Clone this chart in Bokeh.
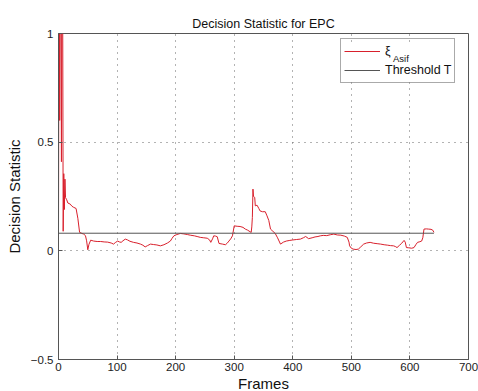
from bokeh.plotting import figure
from bokeh.models import Range1d, Legend, LegendItem, Label, FixedTicker, BoxAnnotation
from bokeh.embed import file_html
from bokeh.resources import INLINE

# ---- data ----
frames = [0, 1, 2, 3, 4, 5, 6, 7, 8, 9, 10, 11, 12, 14, 16, 20, 23, 26, 30, 33, 36,
          40, 43, 46, 48, 50, 52, 55, 60, 66, 72, 78, 84, 90, 94, 97, 101, 104, 107,
          110, 114, 118, 122, 128, 134, 140, 144, 148, 152, 157, 162, 168, 174, 180,
          186, 191, 194, 197, 202, 208, 214, 220, 225, 232, 238, 242, 248, 254, 258,
          260, 263, 265, 268, 271, 274, 280, 285, 288, 291, 294, 297, 300, 305, 310,
          315, 319, 323, 327, 329, 330, 331, 332, 333, 335, 336, 339, 342, 344, 348,
          353, 356, 359, 362, 366, 370, 374, 379, 384, 389, 395, 400, 406, 413, 418,
          422, 427, 433, 438, 443, 447, 452, 458, 464, 470, 476, 482, 488, 493, 496,
          497, 500, 503, 508, 512, 516, 521, 526, 532, 538, 544, 550, 556, 562, 567,
          572, 575, 578, 582, 586, 590, 592, 594, 598, 603, 607, 610, 613, 617, 620,
          622, 624, 628, 632, 636, 639, 641]
xi = [0.10, 1.50, 0.60, 1.50, 1.20, 0.41, 1.50, 1.30, 0.09, 0.355, 0.19, 0.33, 0.245,
      0.235, 0.22, 0.215, 0.205, 0.20, 0.195, 0.15, 0.085,
      0.080, 0.077, 0.070, 0.046, 0.005, 0.030, 0.049, 0.045, 0.043, 0.043, 0.041,
      0.040, 0.036, 0.031, 0.038, 0.045, 0.041, 0.039,
      0.046, 0.054, 0.050, 0.044, 0.039, 0.036, 0.031, 0.026, 0.018, 0.024, 0.031,
      0.029, 0.027, 0.023, 0.028,
      0.036, 0.045, 0.058, 0.069, 0.075, 0.080, 0.078, 0.075, 0.072, 0.069, 0.065,
      0.062, 0.060, 0.058, 0.050,
      0.039, 0.055, 0.069, 0.068, 0.065, 0.034, 0.031, 0.028, 0.035, 0.045, 0.055,
      0.069, 0.115, 0.113, 0.112,
      0.108, 0.100, 0.095, 0.088, 0.085, 0.110, 0.154, 0.284, 0.250, 0.246, 0.207,
      0.210, 0.195, 0.184, 0.180,
      0.180, 0.161, 0.140, 0.100, 0.090, 0.080, 0.060, 0.031, 0.040, 0.045, 0.048,
      0.050, 0.052, 0.054, 0.060,
      0.066, 0.056, 0.060, 0.064, 0.066, 0.069, 0.071, 0.070, 0.074, 0.077, 0.073,
      0.072, 0.068, 0.062, 0.040,
      0.023, 0.012, 0.008, 0.006, 0.008, 0.018, 0.031, 0.036, 0.039, 0.035, 0.033,
      0.031, 0.028, 0.026, 0.024,
      0.023, 0.020, 0.015, 0.025, 0.035, 0.048, 0.040, 0.015, 0.014, 0.012, 0.015,
      0.028, 0.039, 0.042, 0.045,
      0.060, 0.100, 0.101, 0.100, 0.099, 0.095, 0.085]
thr_frames = [0, 641]
thr_values = [0.081, 0.081]
x_ticks = [0, 100, 200, 300, 400, 500, 600, 700]
y_ticks = [-0.5, 0, 0.5, 1]
y_tick_labels = {-0.5: "\u22120.5", 0: "0", 0.5: "0.5", 1: "1"}

FONT = "Liberation Sans"

p = figure(frame_width=410, frame_height=326,
           min_border_left=58, min_border_right=10, min_border_top=33, min_border_bottom=32,
           x_range=Range1d(0, 700), y_range=Range1d(-0.5, 1),
           output_backend="svg", toolbar_location=None,
           title="Decision Statistic for EPC",
           x_axis_label="Frames", y_axis_label="Decision Statistic")
p.background_fill_color = "white"
p.border_fill_color = "white"
p.outline_line_color = "#555555"
p.outline_line_width = 1

p.title.text_font = FONT
p.title.text_font_size = "12.5px"
p.title.text_font_style = "normal"
p.title.align = "center"
p.title.text_color = "#111111"
p.title.standoff = 6

for ax in (p.xaxis[0], p.yaxis[0]):
    ax.axis_line_color = "#555555"
    ax.major_tick_line_color = "#555555"
    ax.major_tick_in = 4
    ax.major_tick_out = 0
    ax.minor_tick_line_color = None
    ax.major_label_text_font = FONT
    ax.major_label_text_font_size = "11.5px"
    ax.major_label_text_color = "#222222"
    ax.axis_label_text_font = FONT
    ax.axis_label_text_font_size = "15px"
    ax.axis_label_text_font_style = "normal"
    ax.axis_label_text_color = "#111111"

p.xaxis[0].ticker = FixedTicker(ticks=x_ticks)
p.yaxis[0].ticker = FixedTicker(ticks=y_ticks)
p.yaxis[0].major_label_overrides = y_tick_labels
p.xaxis[0].major_label_standoff = 3
p.xaxis[0].axis_label_standoff = 1
p.yaxis[0].major_label_standoff = 5
p.yaxis[0].axis_label_standoff = 5

p.xgrid.ticker = FixedTicker(ticks=x_ticks)
p.ygrid.ticker = FixedTicker(ticks=y_ticks)
for g in (p.xgrid[0], p.ygrid[0]):
    g.grid_line_color = "#666666"
    g.grid_line_dash = "1 5"
    g.grid_line_width = 1

r_xi = p.line(frames, xi, line_color="#d8202c", line_width=1)
r_thr = p.line(thr_frames, thr_values, line_color="#555555", line_width=1)

# white backing for the (transparent) legend so the subscript can sit above it
backing = BoxAnnotation(left=483, right=683, bottom=0.776, top=0.960,
                        fill_color="white", fill_alpha=1.0, line_color=None)
p.add_layout(backing)

sub = Label(x=571, y=0.883, text="Asif",
            text_font=FONT, text_font_size="9.5px", text_color="#111111",
            text_baseline="alphabetic")
p.add_layout(sub)

legend = Legend(items=[LegendItem(label="\u03be", renderers=[r_xi]),
                       LegendItem(label="Threshold T", renderers=[r_thr])],
                location=(282, 276))
legend.border_line_color = "#555555"
legend.background_fill_alpha = 0.0
legend.label_text_font = FONT
legend.label_text_font_size = "12.5px"
legend.label_text_color = "#111111"
legend.glyph_width = 36
legend.glyph_height = 18
legend.label_height = 18
legend.label_standoff = 5
legend.spacing = 1
legend.padding = 3
legend.margin = 0
p.add_layout(legend, "center")

open("out.html", "w").write(file_html(p, INLINE))
